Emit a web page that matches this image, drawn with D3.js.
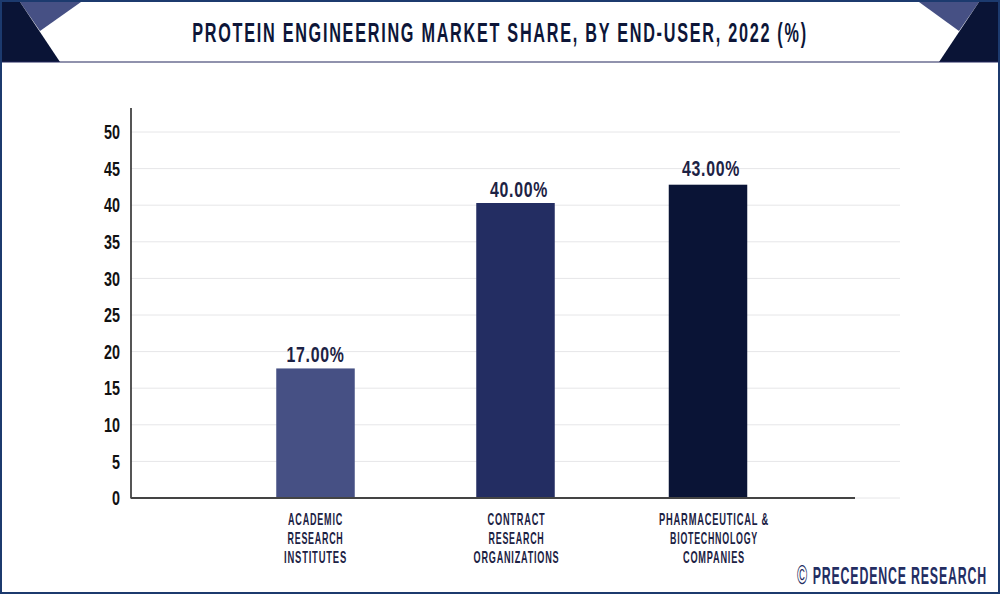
<!DOCTYPE html>
<html><head><meta charset="utf-8">
<style>html,body{margin:0;padding:0;background:#fff}svg{display:block}text{font-family:"Liberation Sans Narrow","Liberation Sans",sans-serif;font-weight:700}</style>
<script src="https://cdn.jsdelivr.net/npm/d3@7"></script></head><body>
<script>
const categories=["Academic Research Institutes","Contract Research Organizations","Pharmaceutical & Biotechnology Companies"];
const categoryLines=[["ACADEMIC","RESEARCH","INSTITUTES"],["CONTRACT","RESEARCH","ORGANIZATIONS"],["PHARMACEUTICAL &","BIOTECHNOLOGY","COMPANIES"]];
const barValues=[17.7,40.3,42.8];
const valueLabels=["17.00%","40.00%","43.00%"];
const barColors=["#465084","#232d62","#0a1436"];
const yTicks=[0,5,10,15,20,25,30,35,40,45,50];
const navy="#0d1638";

const svg=d3.select("body").append("svg").attr("width",1000).attr("height",594);
svg.append("rect").attr("width",1000).attr("height",594).attr("fill","#fff");

// real text, tracked out then squeezed horizontally to the measured width
function fit(g,str,x,y,size,w,fill,ls,anchor){
  const t=g.append("text").attr("font-size",size).attr("fill",fill)
    .attr("text-anchor",anchor||"middle").attr("letter-spacing",ls||0).text(str);
  const sx=w/t.node().getComputedTextLength();
  t.attr("transform",`translate(${x},${y}) scale(${sx},1)`);
  return t;
}

// header
const hdr=svg.append("g");
const poly=(pts,f)=>hdr.append("polygon").attr("points",pts.join(" ")).attr("fill",f);
poly(["20,2","81,2","40,31"],"#465084");
poly(["2,2","20,2","60,62","2,62"],"#0a1436");
poly(["919,2","979,2","959,31"],"#465084");
poly(["979,2","998,2","998,62","939,62"],"#0a1436");
hdr.append("line").attr("x1",2).attr("x2",998).attr("y1",62).attr("y2",62).attr("stroke","#23265c").attr("stroke-width",1.2);
fit(hdr,"PROTEIN ENGINEERING MARKET SHARE, BY END-USER, 2022 (%)",500,41.8,28,616,navy,3);

// scales
const y=d3.scaleLinear().domain([0,50]).range([498,132]);
const x=d3.scaleOrdinal().domain(categories).range([315.5,515.5,708]);
const labelX=d3.scaleOrdinal().domain(categories).range([315.5,516.5,714]);
const valueX=d3.scaleOrdinal().domain(categories).range([315.5,519,711]);
const valueBaseline=[362,197,176];
const barW=78.5;

// grid
const g=svg.append("g");
g.selectAll("line.grid").data(yTicks.filter(d=>d>0)).join("line").attr("class","grid")
 .attr("x1",131).attr("x2",900).attr("y1",d=>y(d)).attr("y2",d=>y(d)).attr("stroke","#e6e6e8").attr("stroke-width",1);
g.append("line").attr("x1",855).attr("x2",900).attr("y1",y(0)).attr("y2",y(0)).attr("stroke","#e6e6e8");

// bars
g.selectAll("rect.bar").data(categories).join("rect").attr("class","bar")
 .attr("x",d=>x(d)-barW/2).attr("width",barW)
 .attr("y",(d,i)=>y(barValues[i])).attr("height",(d,i)=>y(0)-y(barValues[i]))
 .attr("fill",(d,i)=>barColors[i]);

// axes
g.append("line").attr("x1",131).attr("x2",131).attr("y1",108).attr("y2",498.5).attr("stroke","#2b2b2b").attr("stroke-width",1.6);
g.append("line").attr("x1",131).attr("x2",855).attr("y1",498).attr("y2",498).attr("stroke","#444").attr("stroke-width",2);

// y tick labels
yTicks.forEach(t=>{
  fit(g,String(t),120,y(t)+7.2,20,String(t).length*8,"#111",0,"end");
});

// value and category labels
const labelWidths=[[55,56,63],[58,56,86],[110,88,62]];
categories.forEach((c,i)=>{
  fit(g,valueLabels[i],valueX(c),valueBaseline[i],22.5,58,"#1c2244",1);
  categoryLines[i].forEach((l,j)=>{
    fit(g,l,labelX(c),525+j*19,16.5,labelWidths[i][j],"#1c2244",1.4);
  });
});

// footer: enlarged copyright sign inside a single text
const foot=svg.append("text").attr("font-size",24).attr("fill","#232d62").attr("letter-spacing",1.6);
foot.append("tspan").attr("font-size",27).attr("font-weight",400).text("© ");
foot.append("tspan").text("PRECEDENCE RESEARCH");
const footW=foot.node().getComputedTextLength();
foot.attr("transform",`translate(797,583.5) scale(${190/footW},1)`);

// frame
svg.append("rect").attr("x",1).attr("y",1).attr("width",998).attr("height",592).attr("fill","none").attr("stroke","#1c3a6e").attr("stroke-width",2);
</script></body></html>
